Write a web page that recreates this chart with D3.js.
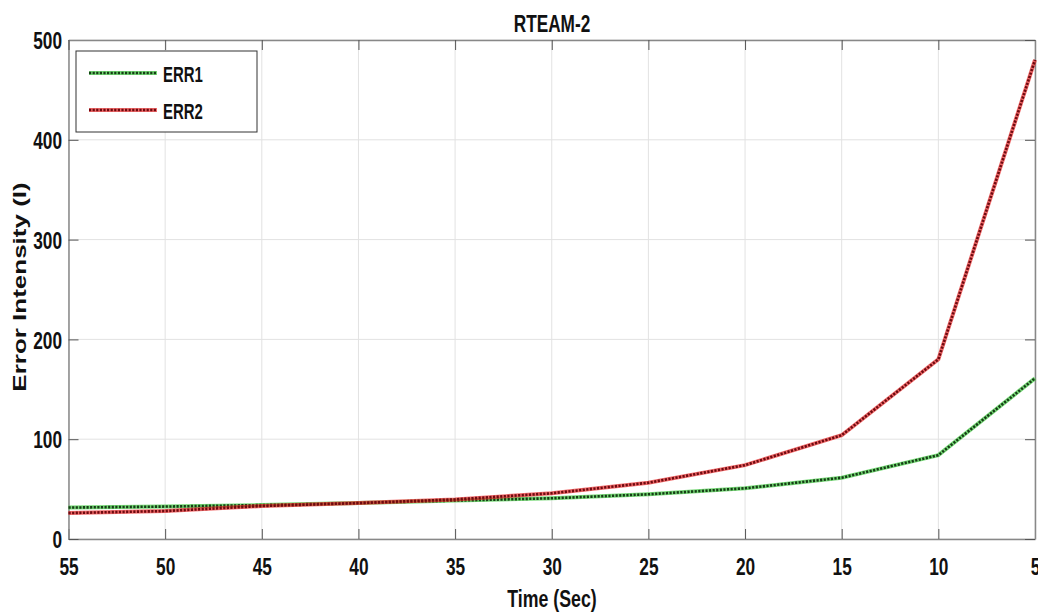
<!DOCTYPE html>
<html>
<head>
<meta charset="utf-8">
<script src="https://cdn.jsdelivr.net/npm/d3@7"></script>
<style>
  body { margin: 0; background: #fff; }
  text { font-family: "Liberation Sans", Arial, sans-serif; font-weight: bold; fill: #111; }
</style>
</head>
<body>
<svg id="chart" width="1038" height="615"></svg>
<script>
// values
var times = [55, 50, 45, 40, 35, 30, 25, 20, 15, 10, 5];
var err1 = [31.5, 32.5, 34, 36, 38.5, 40.8, 44.8, 50.8, 61.4, 84, 161];
var err2 = [26, 28, 33, 36, 39.7, 45.8, 56.4, 74, 104, 180, 480];
var xTicks = [55, 50, 45, 40, 35, 30, 25, 20, 15, 10, 5];
var yTicks = [0, 100, 200, 300, 400, 500];
var seriesNames = ["ERR1", "ERR2"];

var margin = { top: 40, right: 3, bottom: 76, left: 68.5 },
  width = 1038 - margin.left - margin.right,
  height = 615 - margin.top - margin.bottom;

var svg = d3.select("#chart");
var g = svg.append("g")
  .attr("transform", "translate(" + margin.left + "," + margin.top + ")");

var x = d3.scaleLinear().domain([55, 5]).range([0, width]);
var y = d3.scaleLinear().domain([0, 500]).range([height, 0]);

// grid
g.append("g").selectAll("line").data(xTicks).enter().append("line")
  .attr("x1", d => x(d)).attr("x2", d => x(d))
  .attr("y1", 0).attr("y2", height)
  .attr("stroke", "#e2e2e2").attr("stroke-width", 1);
g.append("g").selectAll("line").data(yTicks).enter().append("line")
  .attr("x1", 0).attr("x2", width)
  .attr("y1", d => y(d)).attr("y2", d => y(d))
  .attr("stroke", "#e2e2e2").attr("stroke-width", 1);

// axes (ticks point inward, like matlab)
var xAxis = g.append("g")
  .attr("transform", "translate(0," + height + ")")
  .call(d3.axisBottom(x).tickValues(xTicks).tickSize(-10).tickSizeOuter(0));
xAxis.selectAll("text")
  .attr("y", 36).attr("dy", 0)
  .attr("font-size", 24)
  .attr("transform", "scale(0.72,1)");

var yAxis = g.append("g")
  .call(d3.axisLeft(y).tickValues(yTicks).tickSize(-10).tickSizeOuter(0));
yAxis.selectAll("text")
  .attr("x", -9).attr("dy", "0.36em")
  .attr("font-size", 24)
  .attr("transform", "scale(0.72,1)");

// top and right ticks
g.append("g").call(d3.axisTop(x).tickValues(xTicks).tickSize(-10).tickSizeOuter(0).tickFormat(""));
g.append("g").attr("transform", "translate(" + width + ",0)")
  .call(d3.axisRight(y).tickValues(yTicks).tickSize(-10).tickSizeOuter(0).tickFormat(""));

g.selectAll(".domain").attr("stroke", "#888").attr("stroke-width", 1.5);
g.selectAll(".tick line").attr("stroke", "#555");

// lines
var line = d3.line()
  .x(d => x(d[0]))
  .y(d => y(d[1]));

function drawSeries(vals, halo, dots) {
  var pts = times.map((t, i) => [t, vals[i]]);
  g.append("path").datum(pts)
    .attr("d", line).attr("fill", "none")
    .attr("stroke", halo).attr("stroke-width", 4).attr("stroke-opacity", 0.7);
  g.append("path").datum(pts)
    .attr("d", line).attr("fill", "none")
    .attr("stroke", dots).attr("stroke-width", 2.6)
    .attr("stroke-dasharray", "2.2,1.4");
}
drawSeries(err1, "#3cc83c", "#163d16");
drawSeries(err2, "#e82a2a", "#6e0a10");

// titles
svg.append("text")
  .attr("transform", "translate(552,32) scale(0.75,1)")
  .attr("text-anchor", "middle").attr("font-size", 23)
  .text("RTEAM-2");

svg.append("text")
  .attr("transform", "translate(552,607) scale(0.74,1)")
  .attr("text-anchor", "middle").attr("font-size", 24)
  .text("Time (Sec)");

svg.append("text")
  .attr("transform", "translate(26,287) scale(0.69,1) rotate(-90)")
  .attr("text-anchor", "middle").attr("font-size", 26)
  .text("Error Intensity (I)");

// legend
var legend = svg.append("g");
legend.append("rect")
  .attr("x", 76).attr("y", 51).attr("width", 181).attr("height", 81)
  .attr("fill", "#fff").attr("stroke", "#333").attr("stroke-width", 1);

var legendColors = [["#3cc83c", "#163d16"], ["#e82a2a", "#6e0a10"]];
seriesNames.forEach(function(name, i) {
  var ly = 73 + i * 37;
  legend.append("line")
    .attr("x1", 89).attr("x2", 157).attr("y1", ly).attr("y2", ly)
    .attr("stroke", legendColors[i][0]).attr("stroke-width", 4).attr("stroke-opacity", 0.7);
  legend.append("line")
    .attr("x1", 89).attr("x2", 157).attr("y1", ly).attr("y2", ly)
    .attr("stroke", legendColors[i][1]).attr("stroke-width", 2.6)
    .attr("stroke-dasharray", "2.2,1.4");
  legend.append("text")
    .attr("transform", "translate(163," + (ly + 8.5) + ") scale(0.68,1)")
    .attr("font-size", 22)
    .text(name);
});
</script>
</body>
</html>
